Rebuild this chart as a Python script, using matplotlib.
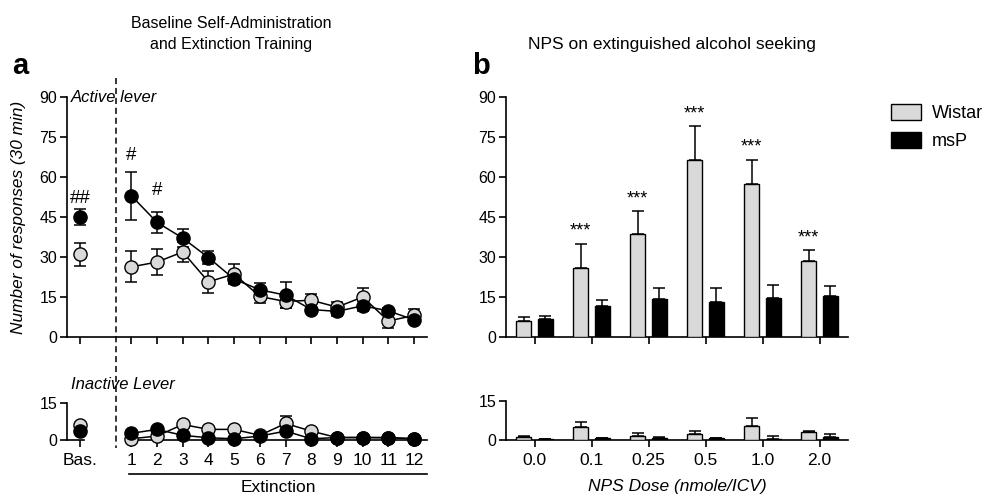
import numpy as np
import matplotlib
matplotlib.use('Agg')
import matplotlib.pyplot as plt
from matplotlib.lines import Line2D
from matplotlib.patches import Patch
from matplotlib.transforms import blended_transform_factory

plt.rcParams['font.family'] = ['Liberation Sans', 'DejaVu Sans']
plt.rcParams['font.size'] = 11

GRAY = '#d9d9d9'

# ---------------- panel a data ----------------
ext_sessions = list(range(1, 13))
bas_x = -1

active_bas_wistar, active_bas_wistar_err = 31.0, 4.4
active_bas_msp, active_bas_msp_err = 45.0, 3.0
active_ext_wistar = [26.3, 28.1, 31.9, 20.7, 23.6, 15.2, 13.3, 13.8, 11.2, 15.0, 6.0, 8.1]
active_ext_wistar_err = [5.8, 4.8, 3.8, 4.1, 3.9, 2.4, 2.6, 2.5, 1.8, 3.5, 2.8, 2.5]
active_ext_msp = [53.0, 43.0, 37.1, 29.8, 21.7, 17.7, 15.7, 10.3, 9.6, 11.7, 9.8, 6.4]
active_ext_msp_err = [9.0, 4.0, 3.4, 2.6, 1.5, 2.4, 5.0, 1.0, 1.6, 1.8, 1.0, 1.0]

inactive_bas_wistar, inactive_bas_msp = 5.9, 3.8
inactive_ext_wistar = [0.5, 1.6, 6.3, 4.3, 4.3, 1.9, 6.7, 3.6, 1.0, 1.0, 0.9, 0.5]
inactive_ext_wistar_err = [0, 0, 0, 0, 0, 0, 3.2, 0, 0, 0, 0, 0]
inactive_ext_msp = [2.7, 4.3, 1.9, 0.9, 0.5, 1.6, 3.6, 0.5, 1.0, 1.0, 1.0, 0.5]

# ---------------- panel b data ----------------
doses = ['0.0', '0.1', '0.25', '0.5', '1.0', '2.0']
nps_wistar = [6.0, 26.0, 38.5, 66.5, 57.5, 28.5]
nps_wistar_err = [1.5, 9.0, 8.75, 12.5, 9.0, 4.0]
nps_msp = [6.75, 11.6, 14.1, 13.1, 14.6, 15.4]
nps_msp_err = [1.2, 2.4, 4.3, 5.3, 4.8, 3.7]
nps_inact_wistar = [1.0, 5.1, 1.65, 2.5, 5.3, 3.05]
nps_inact_wistar_err = [0.65, 2.0, 1.15, 0.9, 3.2, 0.55]
nps_inact_msp = [0.25, 0.6, 0.6, 0.6, 0.5, 1.3]
nps_inact_msp_err = [0.0, 0.3, 0.5, 0.2, 0.9, 1.0]
stars = ['', '***', '***', '***', '***', '***']

fig = plt.figure(figsize=(9.89, 4.94), dpi=100)
W, H = 989, 494


def px_axes(x0, y0, x1, y1):
    # axes from pixel box (top-left origin)
    return fig.add_axes([x0 / W, 1 - y1 / H, (x1 - x0) / W, (y1 - y0) / H])


def style(ax):
    for s in ['top', 'right']:
        ax.spines[s].set_visible(False)
    for s in ['left', 'bottom']:
        ax.spines[s].set_linewidth(1.2)
    ax.tick_params(direction='out', length=5, width=1.2, labelsize=11.5, pad=2)


ax_a = px_axes(67, 97, 427, 337)
ax_ai = px_axes(67, 403, 427, 440)
ax_b = px_axes(506, 97, 848, 337)
ax_bi = px_axes(506, 401, 848, 440)
for ax in (ax_a, ax_ai, ax_b, ax_bi):
    style(ax)
ax_ai.tick_params(axis='x', pad=4)
ax_bi.tick_params(axis='x', pad=4)

all_x = [bas_x] + ext_sessions
mk = dict(marker='o', markersize=9.5, markeredgecolor='black', markeredgewidth=1.0)
eb = dict(fmt='none', ecolor='black', elinewidth=1.1, capsize=4.5, capthick=1.1)

# active lever
ax_a.errorbar(ext_sessions, active_ext_wistar, yerr=active_ext_wistar_err, zorder=2, **eb)
ax_a.errorbar(ext_sessions, active_ext_msp, yerr=active_ext_msp_err, zorder=2, **eb)
ax_a.errorbar([bas_x], [active_bas_wistar], yerr=[active_bas_wistar_err], zorder=2, **eb)
ax_a.errorbar([bas_x], [active_bas_msp], yerr=[active_bas_msp_err], zorder=2, **eb)
ax_a.plot(ext_sessions, active_ext_wistar, color='black', lw=1.1, markerfacecolor=GRAY, zorder=3, **mk)
ax_a.plot(ext_sessions, active_ext_msp, color='black', lw=1.1, markerfacecolor='black', zorder=4, **mk)
ax_a.plot([bas_x], [active_bas_wistar], color='black', markerfacecolor=GRAY, zorder=3, **mk)
ax_a.plot([bas_x], [active_bas_msp], color='black', markerfacecolor='black', zorder=4, **mk)
ax_a.text(bas_x, 52.0, '##', ha='center', va='center', fontsize=13.5)
ax_a.text(1, 68.0, '#', ha='center', va='center', fontsize=13.5)
ax_a.text(2, 55.0, '#', ha='center', va='center', fontsize=13.5)
ax_a.set_xlim(-1.5, 12.5)
ax_a.set_ylim(0, 90)
ax_a.set_yticks([0, 15, 30, 45, 60, 75, 90])
ax_a.set_xticks(all_x)
ax_a.set_xticklabels([])
ax_a.set_ylabel('Number of responses (30 min)', fontstyle='italic', fontsize=12.4)
ax_a.yaxis.set_label_coords(-0.113, 0.5)
ax_a.text(0.01, 1.0, 'Active lever', transform=ax_a.transAxes, fontstyle='italic',
          fontsize=12, ha='left', va='center')

# inactive lever
ax_ai.errorbar(ext_sessions, inactive_ext_wistar, yerr=inactive_ext_wistar_err, zorder=2, **eb)
ax_ai.plot(ext_sessions, inactive_ext_wistar, color='black', lw=1.1, markerfacecolor=GRAY, zorder=3, clip_on=False, **mk)
ax_ai.plot(ext_sessions, inactive_ext_msp, color='black', lw=1.1, markerfacecolor='black', zorder=4, clip_on=False, **mk)
ax_ai.plot([bas_x], [inactive_bas_wistar], color='black', markerfacecolor=GRAY, zorder=3, **mk)
ax_ai.plot([bas_x], [inactive_bas_msp], color='black', markerfacecolor='black', zorder=4, **mk)
ax_ai.set_xlim(-1.5, 12.5)
ax_ai.set_ylim(0, 15)
ax_ai.set_yticks([0, 15])
ax_ai.set_xticks(all_x)
ax_ai.set_xticklabels(['Bas.'] + [str(s) for s in ext_sessions], fontsize=12.5)
ax_ai.spines['bottom'].set_visible(False)
ax_ai.plot([-1.5, -0.85], [0, 0], color='black', lw=1.2, clip_on=False, zorder=1)
ax_ai.plot([0.9, 12.5], [0, 0], color='black', lw=1.2, clip_on=False, zorder=1)
ax_ai.text(0.01, 1.5, 'Inactive Lever', transform=ax_ai.transAxes, fontstyle='italic',
           fontsize=12, ha='left', va='center')

# dashed separator between baseline and extinction
tr = blended_transform_factory(ax_a.transData, fig.transFigure)
fig.add_artist(Line2D([0.4, 0.4], [1 - 78 / H, 1 - 448 / H], transform=tr,
                      color='black', lw=1.1, linestyle=(0, (4, 2.5))))

# extinction bracket
fig.add_artist(Line2D([1 - 0.07, 12.5], [1 - 474 / H] * 2, transform=tr, color='black', lw=1.2))
fig.text(278 / W, 1 - 487 / H, 'Extinction', ha='center', va='center', fontsize=12.5)

fig.text(231 / W, 1 - 23 / H, 'Baseline Self-Administration', ha='center', va='center', fontsize=11.5)
fig.text(231 / W, 1 - 44 / H, 'and Extinction Training', ha='center', va='center', fontsize=11.5)
fig.text(12 / W, 1 - 66 / H, 'a', ha='left', va='center', fontsize=21, fontweight='bold')
fig.text(472 / W, 1 - 66 / H, 'b', ha='left', va='center', fontsize=21, fontweight='bold')
fig.text(672 / W, 1 - 45 / H, 'NPS on extinguished alcohol seeking', ha='center', va='center', fontsize=12.5)

# ---------------- panel b ----------------
xb = np.arange(len(doses))
off, bw = 0.19, 0.26
bar_kw = dict(width=bw, edgecolor='black', linewidth=1.0, zorder=3)
err_kw = dict(ecolor='black', elinewidth=1.1, capsize=4.5, capthick=1.1)
ax_b.bar(xb - off, nps_wistar, color=GRAY, yerr=[np.zeros(6), nps_wistar_err], error_kw=err_kw, label='Wistar', **bar_kw)
ax_b.bar(xb + off, nps_msp, color='black', yerr=[np.zeros(6), nps_msp_err], error_kw=err_kw, label='msP', **bar_kw)
for i, s in enumerate(stars):
    if s:
        ax_b.text(xb[i] - off, nps_wistar[i] + nps_wistar_err[i] + 1.5, s, ha='center',
                  va='bottom', fontsize=13)
ax_b.set_xlim(-0.5, 5.5)
ax_b.set_ylim(0, 90)
ax_b.set_yticks([0, 15, 30, 45, 60, 75, 90])
ax_b.set_xticks(xb)
ax_b.set_xticklabels([])

ax_bi.bar(xb - off, nps_inact_wistar, color=GRAY, yerr=[np.zeros(6), nps_inact_wistar_err], error_kw=err_kw, **bar_kw)
ax_bi.bar(xb + off, nps_inact_msp, color='black', yerr=[np.zeros(6), nps_inact_msp_err], error_kw=err_kw, **bar_kw)
ax_bi.set_xlim(-0.5, 5.5)
ax_bi.set_ylim(0, 15)
ax_bi.set_yticks([0, 15])
ax_bi.set_xticks(xb)
ax_bi.set_xticklabels(doses, fontsize=12.5)
ax_bi.set_xlabel('NPS Dose (nmole/ICV)', fontstyle='italic', fontsize=12.5, labelpad=8)

handles = [Patch(facecolor=GRAY, edgecolor='black', linewidth=1.0, label='Wistar'),
           Patch(facecolor='black', edgecolor='black', label='msP')]
fig.legend(handles=handles, loc='upper left', bbox_to_anchor=(891 / W, 1 - 104 / H),
           frameon=False, fontsize=13, handlelength=1.65, handleheight=1.0,
           handletextpad=0.6, labelspacing=0.55, borderpad=0, borderaxespad=0)

fig.savefig('out.png', dpi=100)
